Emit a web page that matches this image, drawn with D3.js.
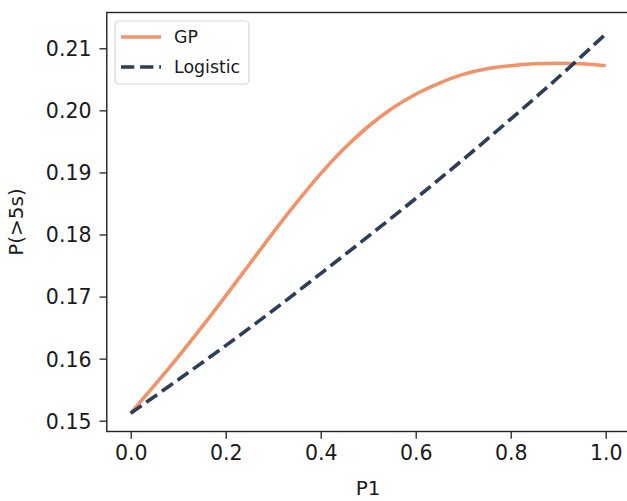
<!DOCTYPE html>
<html>
<head>
<meta charset="utf-8">
<script src="https://cdn.jsdelivr.net/npm/d3@7"></script>
<style>
  body { margin: 0; background: #fff; }
  svg { display: block; font-family: "DejaVu Sans", sans-serif; }
</style>
</head>
<body>
<div id="chart"></div>
<script>
// Data
const p1 = [0.00, 0.05, 0.10, 0.15, 0.20, 0.25, 0.30, 0.35, 0.40, 0.45, 0.50,
            0.55, 0.60, 0.65, 0.70, 0.75, 0.80, 0.85, 0.90, 0.95, 1.00];
const gpValues = [0.1512, 0.1557, 0.1603, 0.1651, 0.1701, 0.1752, 0.1803, 0.1852, 0.1898, 0.1939, 0.1974,
                  0.2003, 0.2026, 0.2044, 0.2058, 0.2067, 0.2072, 0.2075, 0.2076, 0.2075, 0.2072];
const logisticX = [0.0, 0.1, 0.2, 0.3, 0.4, 0.5, 0.6, 0.7, 0.8, 0.9, 1.0];
const logisticValues = [0.1512, 0.1566, 0.1621, 0.1678, 0.1737, 0.1797, 0.1858, 0.1921, 0.1986, 0.2053, 0.2123];
const xTicks = [0.0, 0.2, 0.4, 0.6, 0.8, 1.0];
const yTicks = [0.15, 0.16, 0.17, 0.18, 0.19, 0.20, 0.21];
const seriesNames = ["GP", "Logistic"];

function chart() {
  const width = 627;
  const height = 501;
  // frame of the axes (right spine falls just outside the window)
  const frame = { left: 106.8, right: 629.4, top: 12.5, bottom: 431.5 };

  const gpCol = "#f39268";
  const logCol = "#2c3e58";
  const lw = 3.6;

  const x = d3.scaleLinear().domain([0, 1]).range([130.7, 605.7]);
  const y = d3.scaleLinear().domain([0.15, 0.21]).range([420.7, 48.3]);

  const svg = d3.select("#chart")
    .append("svg")
    .attr("width", width)
    .attr("height", height);

  // Lines
  const line = d3.line()
    .x((d) => x(d[0]))
    .y((d) => y(d[1]))
    .curve(d3.curveCatmullRom);

  svg.append("path")
    .datum(d3.zip(p1, gpValues))
    .attr("d", line)
    .attr("fill", "none")
    .attr("stroke", gpCol)
    .attr("stroke-width", lw);

  svg.append("path")
    .datum(d3.zip(logisticX, logisticValues))
    .attr("d", line)
    .attr("fill", "none")
    .attr("stroke", logCol)
    .attr("stroke-width", lw)
    .attr("stroke-dasharray", "13.3,5.8");

  // Axes
  const xAxis = d3.axisBottom(x)
    .tickValues(xTicks)
    .tickFormat(d3.format(".1f"))
    .tickSize(7.3)
    .tickPadding(7);
  const gx = svg.append("g")
    .attr("transform", `translate(0,${frame.bottom})`)
    .call(xAxis);

  const yAxis = d3.axisLeft(y)
    .tickValues(yTicks)
    .tickFormat(d3.format(".2f"))
    .tickSize(7.3)
    .tickPadding(8);
  const gy = svg.append("g")
    .attr("transform", `translate(${frame.left},0)`)
    .call(yAxis);

  [gx, gy].forEach((g) => {
    g.select(".domain").remove();
    g.selectAll(".tick line").attr("stroke", "#222").attr("stroke-width", 1.3);
    g.selectAll(".tick text")
      .attr("fill", "#1a1a1a")
      .style("font-size", "20.5px")
      .style("font-family", "DejaVu Sans");
  });
  gy.selectAll(".tick text").attr("dy", "0.36em");

  // Spines
  svg.append("rect")
    .attr("x", frame.left)
    .attr("y", frame.top)
    .attr("width", frame.right - frame.left)
    .attr("height", frame.bottom - frame.top)
    .attr("fill", "none")
    .attr("stroke", "#222")
    .attr("stroke-width", 1.4);

  // Axis labels
  svg.append("text")
    .text("P1")
    .attr("x", (frame.left + frame.right) / 2)
    .attr("y", 495)
    .attr("text-anchor", "middle")
    .attr("fill", "#1a1a1a")
    .style("font-size", "20px");

  svg.append("text")
    .text("P(>5s)")
    .attr("transform", `translate(23,${(frame.top + frame.bottom) / 2}) rotate(-90)`)
    .attr("text-anchor", "middle")
    .attr("fill", "#1a1a1a")
    .style("font-size", "20px");

  // Legend
  const legend = svg.append("g").attr("transform", "translate(115,21)");
  legend.append("rect")
    .attr("width", 134)
    .attr("height", 63)
    .attr("rx", 4)
    .attr("fill", "#fff")
    .attr("fill-opacity", 0.8)
    .attr("stroke", "#d6d6d6")
    .attr("stroke-width", 1.2);

  const items = legend.selectAll("g.item")
    .data(seriesNames)
    .enter()
    .append("g")
    .attr("class", "item")
    .attr("transform", (d, i) => `translate(0,${16 + i * 30})`);

  items.append("line")
    .attr("x1", 6)
    .attr("x2", 46)
    .attr("stroke", (d, i) => (i === 0 ? gpCol : logCol))
    .attr("stroke-width", lw)
    .attr("stroke-dasharray", (d, i) => (i === 0 ? null : "13.3,5.8"));

  items.append("text")
    .text((d) => d)
    .attr("x", 59)
    .attr("dy", "0.36em")
    .attr("fill", "#1a1a1a")
    .style("font-size", "17.4px");
}

window.onload = chart;
</script>
</body>
</html>
